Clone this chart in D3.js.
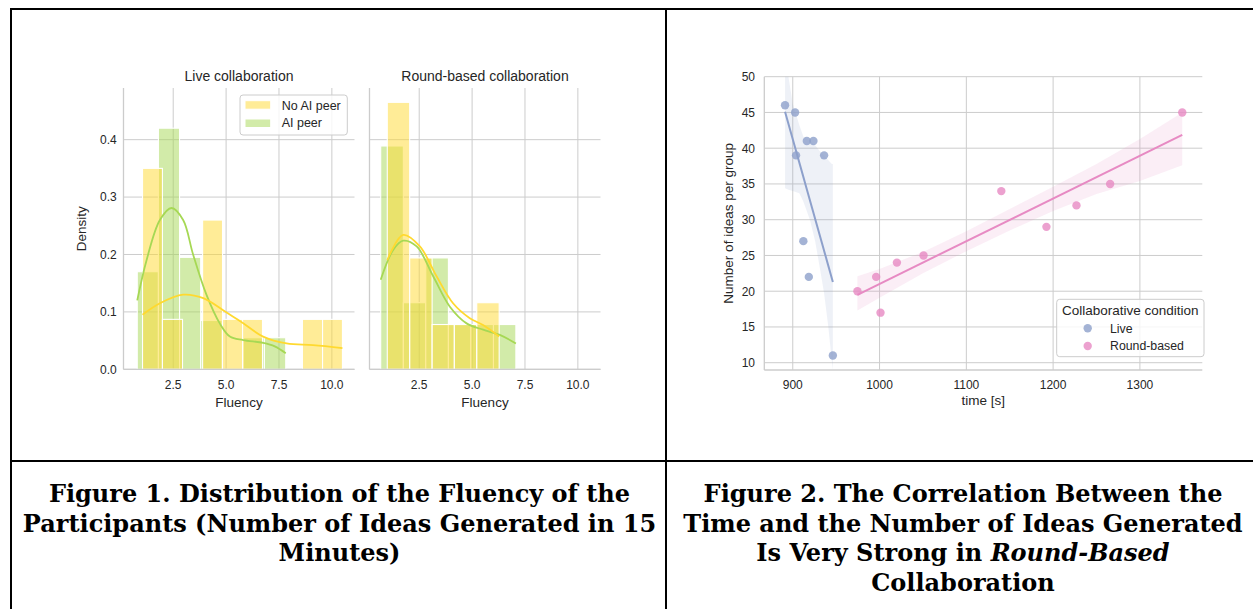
<!DOCTYPE html>
<html><head><meta charset="utf-8">
<script src="https://cdn.jsdelivr.net/npm/d3@7"></script>
<style>
body{margin:0;background:#fff;}
svg text{font-family:"Liberation Sans",Arial,sans-serif;fill:#262626;}
</style></head><body>
<svg id="c" width="1253" height="609"></svg>
<script>
// ---------------- data: Figure 1 (histograms) ----------------
const panelTitles = ["Live collaboration", "Round-based collaboration"];
const hueLevels = ["No AI peer", "AI peer"];
const fluencyTicks = [2.5, 5.0, 7.5, 10.0];
const densityTicks = [0.0, 0.1, 0.2, 0.3, 0.4];

const liveNoAIEdges = [1.05, 1.99, 2.94, 3.89, 4.83, 5.78, 6.72, 7.67, 8.61, 9.56, 10.5];
const liveNoAIDensity = [0.35, 0.087, 0, 0.26, 0.087, 0.087, 0, 0, 0.087, 0.087];
const liveAIEdges = [0.8, 1.8, 2.8, 3.8, 4.81, 5.81, 6.81, 7.82];
const liveAIDensity = [0.17, 0.42, 0.195, 0.085, 0, 0.055, 0.055];
const roundNoAIEdges = [0.99, 2.05, 3.11, 4.16, 5.22, 6.28];
const roundNoAIDensity = [0.465, 0.194, 0.078, 0.078, 0.116];
const roundAIEdges = [0.68, 1.75, 2.81, 3.88, 4.94, 6.01, 7.07];
const roundAIDensity = [0.389, 0.116, 0.194, 0.078, 0.078, 0.078];

const liveNoAIKdeX = [1.05, 1.87, 2.97, 3.92, 4.86, 5.81, 6.75, 7.86, 9.11, 10.5];
const liveNoAIKdeY = [0.095, 0.115, 0.13, 0.124, 0.103, 0.080, 0.057, 0.045, 0.042, 0.037];
const liveAIKdeX = [0.8, 1.24, 1.87, 2.42, 2.97, 3.44, 4.07, 4.7, 5.18, 5.81, 6.75, 7.3, 7.82];
const liveAIKdeY = [0.12, 0.19, 0.26, 0.281, 0.26, 0.2, 0.13, 0.08, 0.057, 0.051, 0.046, 0.04, 0.028];
const roundNoAIKdeX = [0.99, 1.74, 2.53, 3.32, 4.1, 4.89, 5.52, 6.28];
const roundNoAIKdeY = [0.19, 0.234, 0.214, 0.162, 0.115, 0.089, 0.077, 0.057];
const roundAIKdeX = [0.68, 1.27, 1.74, 2.38, 3.16, 3.95, 4.74, 5.52, 6.31, 7.07];
const roundAIKdeY = [0.156, 0.208, 0.224, 0.214, 0.162, 0.109, 0.080, 0.069, 0.06, 0.045];

// ---------------- data: Figure 2 (regression) ----------------
const conditions = ["Live", "Round-based"];
const timeTicks = [900, 1000, 1100, 1200, 1300];
const ideasTicks = [10, 15, 20, 25, 30, 35, 40, 45, 50];
const liveTime = [891.1, 902.7, 903.8, 916.2, 923.8, 936.1, 912.2, 918.5, 946.2];
const liveIdeas = [46, 45, 39, 41, 41, 39, 27, 22, 11];
const roundTime = [974.5, 996.1, 1001.1, 1020, 1050.7, 1140.3, 1192.3, 1226.9, 1265.7, 1348.8];
const roundIdeas = [20, 22, 17, 24, 25, 34, 29, 32, 35, 45];
const liveFitX = [891.1, 946.2];
const liveFitY = [45.1, 21.3];
const liveBandX = [891.1, 895, 900, 907.6, 912.3, 920, 925.8, 931, 936, 941, 945, 946.2];
const liveBandHi = [58, 50, 46.2, 43.2, 41.6, 41.0, 40.4, 39.6, 39.0, 38.3, 37.8, 37.8];
const liveBandLo = [34.4, 34.2, 34.0, 33.7, 32.5, 29.9, 27.0, 23.4, 19.8, 15.0, 10.2, 9.0];
const roundFitX = [974.5, 1348.8];
const roundFitY = [19.5, 41.85];
const roundBandX = [974.5, 1000, 1050, 1100, 1150, 1200, 1250, 1300, 1348.8];
const roundBandHi = [22.1, 23.1, 25.5, 28.4, 31.5, 34.6, 37.8, 41.3, 45.0];
const roundBandLo = [17.3, 19.1, 22.5, 25.6, 28.5, 31.2, 33.6, 35.4, 37.6];

// ---------------- captions ----------------
const caption1 = ["Figure 1. Distribution of the Fluency of the",
                  "Participants (Number of Ideas Generated in 15",
                  "Minutes)"];
const caption2 = [["Figure 2. The Correlation Between the"],
                  ["Time and the Number of Ideas Generated"],
                  ["Is Very Strong in ", "Round-Based"],
                  ["Collaboration"]];

// ---------------- styles ----------------
const YELLOW = "#ffd92f", GREEN = "#a6d854", BLUE = "#8da0cb", PINK = "#e78ac3";
const GRID = "#cccccc";

const svg = d3.select("#c");

// table lines
const tbl = svg.append("g").attr("stroke", "#000").attr("stroke-width", 2);
tbl.append("line").attr("x1", 10).attr("x2", 1253).attr("y1", 9).attr("y2", 9);
tbl.append("line").attr("x1", 11).attr("x2", 11).attr("y1", 8).attr("y2", 609);
tbl.append("line").attr("x1", 666).attr("x2", 666).attr("y1", 8).attr("y2", 609);
tbl.append("line").attr("x1", 10).attr("x2", 1253).attr("y1", 461).attr("y2", 461);

// ---------------- Figure 1 ----------------
const yD = d3.scaleLinear().domain([0, 0.49]).range([369.3, 88]);
const panelX = [
  d3.scaleLinear().domain([0.15, 11.07]).range([123.5, 354.5]),
  d3.scaleLinear().domain([0.15, 11.07]).range([369.5, 600.5])
];
const histData = [
  [{edges: liveAIEdges, dens: liveAIDensity, color: GREEN, kx: liveAIKdeX, ky: liveAIKdeY},
   {edges: liveNoAIEdges, dens: liveNoAIDensity, color: YELLOW, kx: liveNoAIKdeX, ky: liveNoAIKdeY}],
  [{edges: roundAIEdges, dens: roundAIDensity, color: GREEN, kx: roundAIKdeX, ky: roundAIKdeY},
   {edges: roundNoAIEdges, dens: roundNoAIDensity, color: YELLOW, kx: roundNoAIKdeX, ky: roundNoAIKdeY}]
];

panelX.forEach((x, p) => {
  const g = svg.append("g");
  const [x0, x1] = x.range();
  // grid
  g.append("g").selectAll("line").data(fluencyTicks).join("line")
    .attr("x1", d => x(d)).attr("x2", d => x(d)).attr("y1", yD.range()[1]).attr("y2", yD.range()[0])
    .attr("stroke", GRID).attr("stroke-width", 1);
  g.append("g").selectAll("line").data(densityTicks).join("line")
    .attr("x1", x0).attr("x2", x1).attr("y1", d => yD(d)).attr("y2", d => yD(d))
    .attr("stroke", GRID).attr("stroke-width", 1);
  // bars
  histData[p].forEach(s => {
    const bins = s.dens.map((d, i) => ({x0: s.edges[i], x1: s.edges[i + 1], d}));
    g.append("g").selectAll("rect").data(bins.filter(b => b.d > 0)).join("rect")
      .attr("x", b => x(b.x0)).attr("width", b => x(b.x1) - x(b.x0))
      .attr("y", b => yD(b.d)).attr("height", b => yD(0) - yD(b.d))
      .attr("fill", s.color).attr("fill-opacity", 0.5)
      .attr("stroke", "#fff").attr("stroke-width", 1.1);
  });
  // kde
  histData[p].forEach(s => {
    const pts = s.kx.map((v, i) => [v, s.ky[i]]);
    g.append("path").datum(pts)
      .attr("d", d3.line().x(d => x(d[0])).y(d => yD(d[1])).curve(d3.curveCatmullRom.alpha(0.5)))
      .attr("fill", "none").attr("stroke", s.color).attr("stroke-width", 1.8);
  });
  // spines
  g.append("line").attr("x1", x0).attr("x2", x0).attr("y1", yD.range()[1]).attr("y2", yD.range()[0])
    .attr("stroke", GRID).attr("stroke-width", 1.3);
  g.append("line").attr("x1", x0).attr("x2", x1).attr("y1", yD(0)).attr("y2", yD(0))
    .attr("stroke", GRID).attr("stroke-width", 1.3);
  // x tick labels
  g.append("g").selectAll("text").data(fluencyTicks).join("text")
    .attr("x", d => x(d)).attr("y", 389.3).attr("text-anchor", "middle")
    .attr("font-size", 12).text(d => d.toFixed(1));
  if (p === 0) {
    g.append("g").selectAll("text").data(densityTicks).join("text")
      .attr("x", 116.7).attr("y", d => yD(d) + 4.3).attr("text-anchor", "end")
      .attr("font-size", 12).text(d => d.toFixed(1));
    g.append("text").attr("transform", `translate(86.4,${(yD.range()[0] + yD.range()[1]) / 2}) rotate(-90)`)
      .attr("text-anchor", "middle").attr("font-size", 13.5).text("Density");
  }
  g.append("text").attr("x", (x0 + x1) / 2).attr("y", 406.7).attr("text-anchor", "middle")
    .attr("font-size", 13.5).text("Fluency");
  g.append("text").attr("x", (x0 + x1) / 2).attr("y", 81).attr("text-anchor", "middle")
    .attr("font-size", 14).text(panelTitles[p]);
});

// legend figure 1
{
  const g = svg.append("g");
  g.append("rect").attr("x", 240).attr("y", 95).attr("width", 107.3).attr("height", 40)
    .attr("rx", 3).attr("fill", "#fff").attr("fill-opacity", 0.8).attr("stroke", GRID).attr("stroke-width", 1);
  const cols = [YELLOW, GREEN];
  hueLevels.forEach((h, i) => {
    g.append("rect").attr("x", 245).attr("y", 100.7 + i * 18.3).attr("width", 25.7).attr("height", 8.5)
      .attr("fill", cols[i]).attr("fill-opacity", 0.5).attr("stroke", "#fff").attr("stroke-width", 1);
    g.append("text").attr("x", 281.7).attr("y", 110 + i * 17.2).attr("font-size", 12.5).text(h);
  });
}

// ---------------- Figure 2 ----------------
{
  const x = d3.scaleLinear().domain([867.2, 1371.9]).range([764.3, 1202.3]);
  const y = d3.scaleLinear().domain([8.98, 50]).range([370, 76.7]);
  const g = svg.append("g");
  const [x0, x1] = x.range(), [y0, y1] = y.range();
  svg.append("defs").append("clipPath").attr("id", "clip2")
    .append("rect").attr("x", x0).attr("y", y1).attr("width", x1 - x0).attr("height", y0 - y1);
  g.append("g").selectAll("line").data(timeTicks).join("line")
    .attr("x1", d => x(d)).attr("x2", d => x(d)).attr("y1", y1).attr("y2", y0)
    .attr("stroke", GRID).attr("stroke-width", 1);
  g.append("g").selectAll("line").data(ideasTicks).join("line")
    .attr("x1", x0).attr("x2", x1).attr("y1", d => y(d)).attr("y2", d => y(d))
    .attr("stroke", GRID).attr("stroke-width", 1);

  const series = [
    {tx: liveTime, iy: liveIdeas, fx: liveFitX, fy: liveFitY, bx: liveBandX, hi: liveBandHi, lo: liveBandLo, c: BLUE},
    {tx: roundTime, iy: roundIdeas, fx: roundFitX, fy: roundFitY, bx: roundBandX, hi: roundBandHi, lo: roundBandLo, c: PINK}
  ];
  const pg = g.append("g").attr("clip-path", "url(#clip2)");
  series.forEach(s => {
    const band = s.bx.map((v, i) => ({x: v, hi: s.hi[i], lo: s.lo[i]}));
    pg.append("path").datum(band)
      .attr("d", d3.area().x(d => x(d.x)).y0(d => y(d.lo)).y1(d => y(d.hi)))
      .attr("fill", s.c).attr("fill-opacity", 0.15);
  });
  series.forEach(s => {
    pg.append("g").selectAll("circle").data(s.tx.map((v, i) => [v, s.iy[i]])).join("circle")
      .attr("cx", d => x(d[0])).attr("cy", d => y(d[1])).attr("r", 4.2)
      .attr("fill", s.c).attr("fill-opacity", 0.8);
  });
  series.forEach(s => {
    pg.append("path").datum(s.fx.map((v, i) => [v, s.fy[i]]))
      .attr("d", d3.line().x(d => x(d[0])).y(d => y(d[1])))
      .attr("stroke", s.c).attr("stroke-width", 2).attr("fill", "none");
  });
  g.append("line").attr("x1", x0).attr("x2", x0).attr("y1", y1).attr("y2", y0).attr("stroke", GRID).attr("stroke-width", 1.3);
  g.append("line").attr("x1", x0).attr("x2", x1).attr("y1", y0).attr("y2", y0).attr("stroke", GRID).attr("stroke-width", 1.3);
  g.append("g").selectAll("text").data(timeTicks).join("text")
    .attr("x", d => x(d)).attr("y", 389.3).attr("text-anchor", "middle").attr("font-size", 12).text(d => d);
  g.append("g").selectAll("text").data(ideasTicks).join("text")
    .attr("x", 755).attr("y", d => y(d) + 4.3).attr("text-anchor", "end").attr("font-size", 12).text(d => d);
  g.append("text").attr("x", (x0 + x1) / 2).attr("y", 404.5).attr("text-anchor", "middle")
    .attr("font-size", 13.5).text("time [s]");
  g.append("text").attr("transform", `translate(733,${(y0 + y1) / 2}) rotate(-90)`)
    .attr("text-anchor", "middle").attr("font-size", 13.5).text("Number of ideas per group");

  // legend
  const lg = svg.append("g");
  lg.append("rect").attr("x", 1056.7).attr("y", 299.3).attr("width", 147.3).attr("height", 57.4)
    .attr("rx", 3).attr("fill", "#fff").attr("fill-opacity", 0.8).attr("stroke", GRID).attr("stroke-width", 1);
  lg.append("text").attr("x", 1130.3).attr("y", 314.5).attr("text-anchor", "middle").attr("font-size", 13.5)
    .text("Collaborative condition");
  const cols = [BLUE, PINK];
  conditions.forEach((c, i) => {
    lg.append("circle").attr("cx", 1087.7).attr("cy", 328.3 + i * 17.7).attr("r", 4.2)
      .attr("fill", cols[i]).attr("fill-opacity", 0.8);
    lg.append("text").attr("x", 1110).attr("y", 332.5 + i * 17.5).attr("font-size", 12.3).text(c);
  });
}

// ---------------- captions ----------------
const capFont = "'DejaVu Serif', 'Liberation Serif', serif";
const baselines = [502, 531.5, 561, 590.5];
caption1.forEach((t, i) => {
  svg.append("text").attr("x", 339.5).attr("y", baselines[i]).attr("text-anchor", "middle")
    .style("font-family", capFont).attr("font-weight", "bold").attr("font-size", 24).style("fill", "#000").text(t);
});
caption2.forEach((parts, i) => {
  const t = svg.append("text").attr("x", 963).attr("y", baselines[i]).attr("text-anchor", "middle")
    .style("font-family", capFont).attr("font-weight", "bold").attr("font-size", 24).style("fill", "#000");
  parts.forEach((p, j) => t.append("tspan").attr("font-style", j === 1 ? "italic" : "normal").text(p));
});
</script>
</body></html>
